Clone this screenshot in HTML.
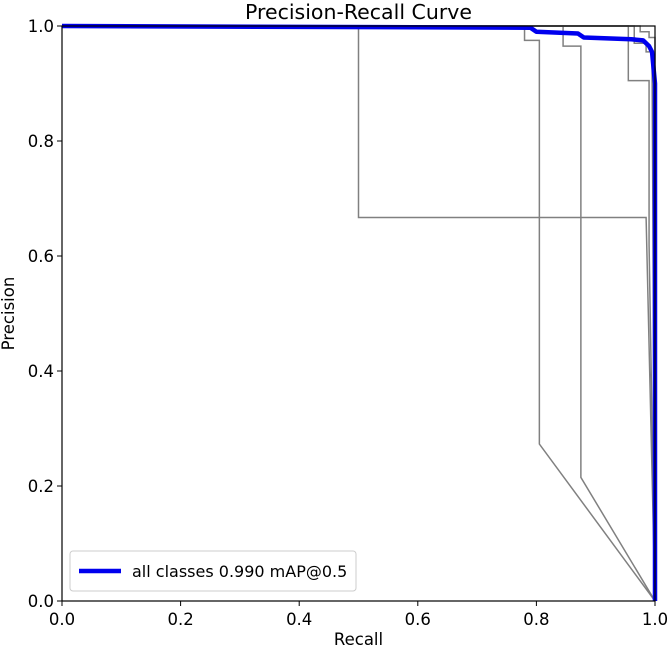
<!DOCTYPE html>
<html><head><meta charset="utf-8"><style>
body{margin:0;background:#fff;}
svg text{font-family:"DejaVu Sans","Liberation Sans",sans-serif;fill:#000;}
</style></head><body>
<svg id="chart" width="669" height="650"></svg>
<script>
const xTicks=[0,0.2,0.4,0.6,0.8,1.0];
const yTicks=[0,0.2,0.4,0.6,0.8,1.0];
const tickLabels=["0.0","0.2","0.4","0.6","0.8","1.0"];
const c1R=[0,0.5,0.5,0.985,1.0];
const c1P=[1,1,0.667,0.667,0];
const c2R=[0,0.78,0.78,0.805,0.805,1.0];
const c2P=[1,1,0.975,0.975,0.273,0];
const c3R=[0,0.845,0.845,0.875,0.875,1.0];
const c3P=[1,1,0.965,0.965,0.215,0];
const c4R=[0,0.955,0.955,0.99,0.99,1.0];
const c4P=[1,1,0.905,0.905,0.62,0];
const c5R=[0,0.965,0.965,0.985,0.985,0.995,0.995,1.0];
const c5P=[1,1,0.97,0.97,0.955,0.955,0.94,0];
const c6R=[0,0.975,0.975,0.99,0.99,1.0,1.0];
const c6P=[1,1,0.99,0.99,0.98,0.98,0];
const allR=[0,0.79,0.8,0.87,0.88,0.96,0.98,0.99,0.995,1.0,1.0];
const allP=[1,0.997,0.99,0.987,0.98,0.977,0.975,0.965,0.955,0.9,0];
const classR=[c1R,c2R,c3R,c4R,c5R,c6R];
const classP=[c1P,c2P,c3P,c4P,c5P,c6P];

const L=62,R=655,T=26,B=601;
const sx=v=>L+v*(R-L), sy=v=>B-v*(B-T);
const svg=document.getElementById('chart');
const NS='http://www.w3.org/2000/svg';
function mk(tag,attrs,parent){const e=document.createElementNS(NS,tag);for(const k in attrs)e.setAttribute(k,attrs[k]);(parent||svg).appendChild(e);return e;}

const t=mk('text',{x:(L+R)/2,y:19,'text-anchor':'middle','font-size':'20.5'});
t.textContent='Precision-Recall Curve';



classR.forEach((rs,i)=>{
  const p=mk('polyline',{points:rs.map((r,j)=>sx(r)+','+sy(classP[i][j])).join(' '),fill:'none',stroke:'#808080','stroke-width':'1.5'});
  
  
});
const bl=mk('polyline',{points:allR.map((r,j)=>sx(r)+','+sy(allP[j])).join(' '),fill:'none',stroke:'#0000ee','stroke-width':'4.5','stroke-linejoin':'round'});



const fr=mk('rect',{x:L,y:T,width:R-L,height:B-T,fill:'none',stroke:'#000','stroke-width':'1.2'});



xTicks.forEach((v,i)=>{
  mk('line',{x1:sx(v),x2:sx(v),y1:B,y2:B+5,stroke:'#000'});
  const tx=mk('text',{x:sx(v),y:B+24,'text-anchor':'middle','font-size':'16.5'});
  tx.textContent=tickLabels[i];
  
  
});
yTicks.forEach((v,i)=>{
  mk('line',{x1:L-5,x2:L,y1:sy(v),y2:sy(v),stroke:'#000'});
  const ty=mk('text',{x:L-8,y:sy(v)+6,'text-anchor':'end','font-size':'16.5'});
  ty.textContent=tickLabels[i];
  
  
});
const xl=mk('text',{x:(L+R)/2,y:645,'text-anchor':'middle','font-size':'16.5'});
xl.textContent='Recall';


const yl=mk('text',{x:0,y:0,'text-anchor':'middle','font-size':'16.5',transform:'translate(14,'+((T+B)/2)+') rotate(-90)'});
yl.textContent='Precision';



const lg=mk('g',{});


mk('rect',{x:70,y:551,width:286,height:40,rx:3,fill:'#fff',stroke:'#ccc'},lg);
mk('line',{x1:79,x2:121,y1:571,y2:571,stroke:'#0000ee','stroke-width':'4.5'},lg);
const lt=mk('text',{x:132,y:577,'font-size':'16'},lg);
lt.textContent='all classes 0.990 mAP@0.5';


</script>
</body></html>
